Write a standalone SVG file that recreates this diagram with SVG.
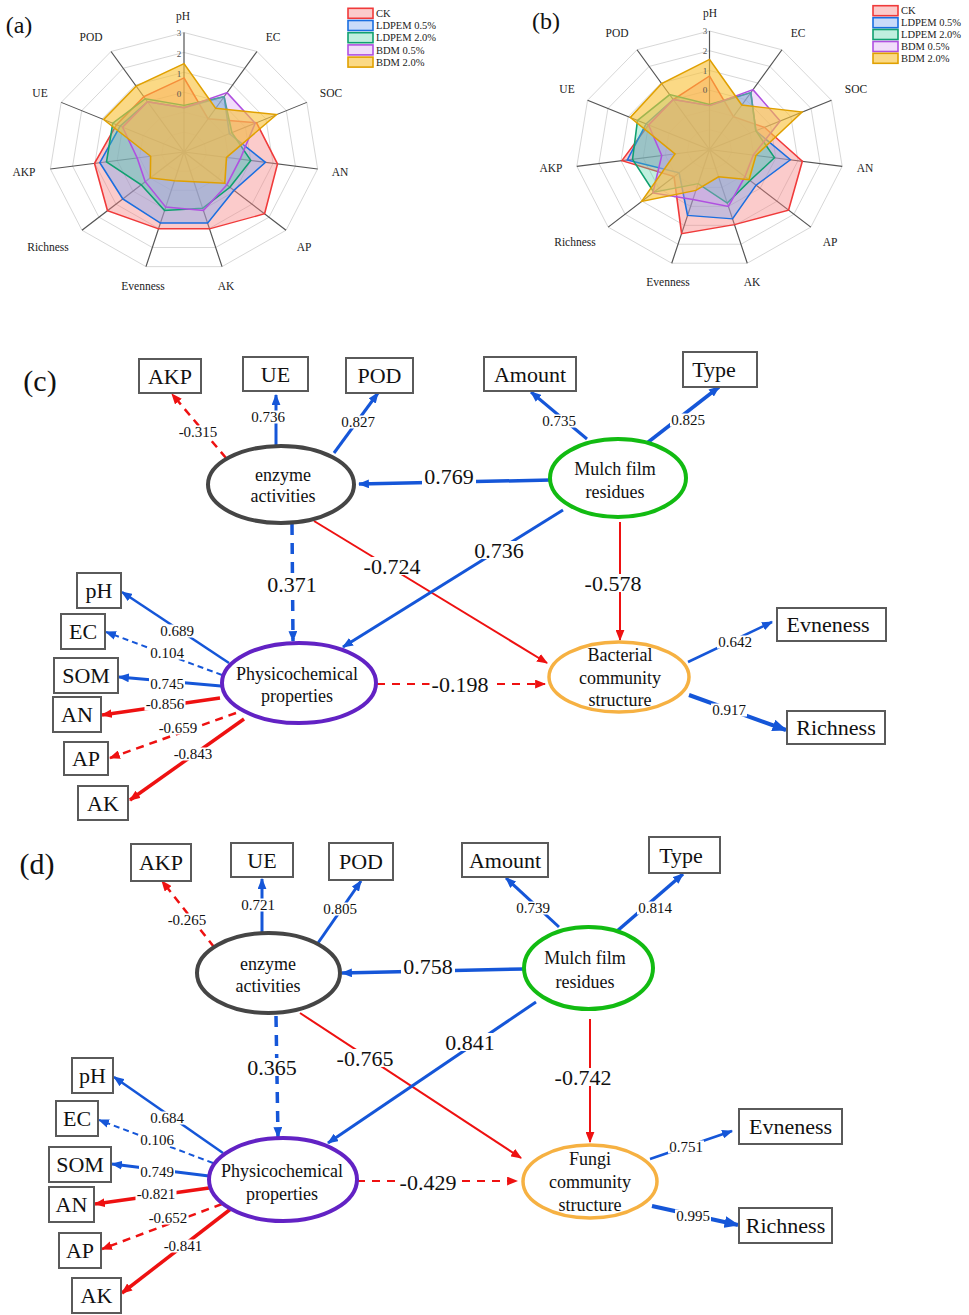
<svg xmlns="http://www.w3.org/2000/svg" xmlns:xlink="http://www.w3.org/1999/xlink" width="969" height="1315" viewBox="0 0 969 1315">
<style>
.ax{font-family:"Liberation Serif",serif;font-size:11.5px;text-anchor:middle;dominant-baseline:central;fill:#222}
.tk{font-family:"Liberation Serif",serif;font-size:9px;text-anchor:middle;dominant-baseline:central;fill:#555}
.lg{font-family:"Liberation Serif",serif;font-size:10.5px;fill:#222}
.pl{font-family:"Liberation Serif",serif;font-size:24px;text-anchor:middle;dominant-baseline:central;fill:#111}
.grid{fill:none;stroke:#d4d4d4;stroke-width:1}
.spoke{stroke:#555;stroke-width:1.2}
.ck{fill:#f58484;fill-opacity:.42;stroke:#f03a3a;stroke-width:1.6}
.l5{fill:#7aa6f0;fill-opacity:.4;stroke:#1a6ee0;stroke-width:1.6}
.l2{fill:#45d0a0;fill-opacity:.34;stroke:#10a070;stroke-width:1.6}
.b5{fill:#d59af0;fill-opacity:.34;stroke:#b050e0;stroke-width:1.6}
.b2{fill:#f8c23a;fill-opacity:.62;stroke:#e0a000;stroke-width:1.6}
.box{fill:#fff;stroke:#5a5a5a;stroke-width:2}
.bt{font-family:"Liberation Serif",serif;font-size:22px;text-anchor:middle;dominant-baseline:central;fill:#111}
.et{font-family:"Liberation Serif",serif;font-size:18px;text-anchor:middle;dominant-baseline:central;fill:#111}
.sm{font-family:"Liberation Serif",serif;font-size:15px;text-anchor:middle;dominant-baseline:central;fill:#111}
.bg{font-family:"Liberation Serif",serif;font-size:22px;text-anchor:middle;dominant-baseline:central;fill:#111}
.lb{fill:#fff;stroke:none}
.b{fill:none;stroke:#1556d8}
.r{fill:none;stroke:#ee1111}
.ab{marker-end:url(#mb)}
.ar{marker-end:url(#mr)}
</style>
<defs>
<marker id="mb" viewBox="0 0 10 8" refX="9" refY="4" markerWidth="11" markerHeight="9" markerUnits="userSpaceOnUse" orient="auto"><path d="M0,0L10,4L0,8z" fill="#1556d8"/></marker>
<marker id="mr" viewBox="0 0 10 8" refX="9" refY="4" markerWidth="11" markerHeight="9" markerUnits="userSpaceOnUse" orient="auto"><path d="M0,0L10,4L0,8z" fill="#ee1111"/></marker>
<marker id="mbb" viewBox="0 0 10 8" refX="9" refY="4" markerWidth="15" markerHeight="12" markerUnits="userSpaceOnUse" orient="auto"><path d="M0,0L10,4L0,8z" fill="#1556d8"/></marker>
<g id="rgrid">
<polygon class="grid" points="0,-22.5 12.2,-18.9 20.5,-9.3 22.3,3.2 17.0,14.7 6.3,21.6 -6.3,21.6 -17.0,14.7 -22.3,3.2 -20.5,-9.3 -12.2,-18.9"/>
<polygon class="grid" points="0,-45 24.3,-37.9 40.9,-18.7 44.5,6.4 34.0,29.5 12.7,43.2 -12.7,43.2 -34.0,29.5 -44.5,6.4 -40.9,-18.7 -24.3,-37.9"/>
<polygon class="grid" points="0,-67.5 36.5,-56.8 61.4,-28.0 66.8,9.6 51.0,44.2 19.0,64.8 -19.0,64.8 -51.0,44.2 -66.8,9.6 -61.4,-28.0 -36.5,-56.8"/>
<polygon class="grid" points="0,-90 48.7,-75.7 81.9,-37.4 89.1,12.8 68.0,58.9 25.4,86.4 -25.4,86.4 -68.0,58.9 -89.1,12.8 -81.9,-37.4 -48.7,-75.7"/>
<polygon class="grid" points="0,-112.5 60.8,-94.6 102.3,-46.7 111.4,16.0 85.0,73.7 31.7,107.9 -31.7,107.9 -85.0,73.7 -111.4,16.0 -102.3,-46.7 -60.8,-94.6"/>
<polygon class="grid" points="0,-135 72.98,-113.58 122.80,-56.08 133.62,19.21 102.02,88.41 38.03,129.53 -38.03,129.53 -102.02,88.41 -133.62,19.21 -122.80,-56.08 -72.98,-113.58"/>
<path class="spoke" d="M0,0L0,-135M0,0L72.98,-113.58M0,0L122.80,-56.08M0,0L133.62,19.21M0,0L102.02,88.41M0,0L38.03,129.53M0,0L-38.03,129.53M0,0L-102.02,88.41M0,0L-133.62,19.21M0,0L-122.80,-56.08M0,0L-72.98,-113.58"/>
</g>
</defs>
<rect width="969" height="1315" fill="#fff"/>

<!-- Radar (a) -->
<g id="radar-a">
<g transform="translate(184,152) scale(1,0.885)">
<use xlink:href="#rgrid"/>
<polygon class="ck" points="0,-83.7 24.1,-37.5 72.5,-33.1 93.5,13.4 80.6,69.8 25.5,86.8 -25.5,86.8 -76.5,66.3 -89.5,12.9 -67.5,-30.8 -40.1,-62.5"/>
<polygon class="l5" points="0,-50 40.1,-62.5 45.4,-20.7 81.5,11.7 50.0,43.3 23.6,80.3 -23.6,80.3 -61.2,53.0 -84.2,12.1 -63.9,-29.2 -36.5,-56.8"/>
<polygon class="l2" points="0,-52.7 40.1,-62.5 47.9,-21.9 66.8,9.6 45.9,39.8 18.6,63.5 -19.4,66.1 -42.8,37.1 -77.5,11.1 -71.2,-32.5 -38.7,-60.2"/>
<polygon class="b5" points="0,-50 43.1,-67.0 71.2,-32.5 56.1,8.1 42.8,37.1 19.4,66.1 -18.3,62.2 -38.8,33.6 -46.8,6.7 -61.4,-28.0 -36.5,-56.8"/>
<polygon class="b2" points="0,-99.9 31.7,-49.4 92.6,-42.3 42.5,6.1 40.8,35.4 9.9,33.7 -9.5,32.4 -33.7,29.2 -33.4,4.8 -80.4,-36.7 -47.8,-74.4"/>
</g>
<text class="pl" x="19" y="25">(a)</text>
<text class="tk" x="179" y="33">3</text><text class="tk" x="179" y="54">2</text><text class="tk" x="179" y="74">1</text><text class="tk" x="179" y="94">0</text>
<text class="ax" x="183" y="16">pH</text>
<text class="ax" x="273" y="37">EC</text>
<text class="ax" x="331" y="93">SOC</text>
<text class="ax" x="340" y="172">AN</text>
<text class="ax" x="304" y="247">AP</text>
<text class="ax" x="226" y="286">AK</text>
<text class="ax" x="143" y="286">Evenness</text>
<text class="ax" x="48" y="247">Richness</text>
<text class="ax" x="24" y="172">AKP</text>
<text class="ax" x="40" y="93">UE</text>
<text class="ax" x="91" y="37">POD</text>
<rect class="ck" x="348" y="8.3" width="25" height="10"/><text class="lg" x="376" y="17">CK</text>
<rect class="l5" x="348" y="20.5" width="25" height="10"/><text class="lg" x="376" y="29.2">LDPEM 0.5%</text>
<rect class="l2" x="348" y="32.7" width="25" height="10"/><text class="lg" x="376" y="41.4">LDPEM 2.0%</text>
<rect class="b5" x="348" y="44.9" width="25" height="10"/><text class="lg" x="376" y="53.6">BDM 0.5%</text>
<rect class="b2" x="348" y="57.1" width="25" height="10"/><text class="lg" x="376" y="65.8">BDM 2.0%</text>
</g>

<!-- Radar (b) -->
<g id="radar-b">
<g transform="translate(709.5,149.5) scale(0.993,0.878)">
<use xlink:href="#rgrid"/>
<polygon class="ck" points="0,-83.7 24.1,-37.5 55.3,-25.2 93.5,13.4 79.6,69.0 25.1,85.5 -28.1,95.9 -35.7,30.9 -88.2,12.7 -61.4,-28.0 -36.5,-56.8"/>
<polygon class="l5" points="0,-50 41.6,-64.7 46.7,-21.3 81.5,11.7 46.9,40.7 23.2,79.0 -22.1,75.1 -30.6,26.5 -82.8,11.9 -63.9,-29.2 -36.5,-56.8"/>
<polygon class="l2" points="0,-51.3 41.6,-64.7 46.7,-21.3 65.5,9.4 40.8,35.4 17.9,60.9 -11.4,38.9 -56.1,48.6 -77.5,11.1 -72.5,-33.1 -40.1,-62.5"/>
<polygon class="b5" points="0,-50 43.8,-68.1 71.2,-32.5 44.1,6.3 35.7,30.9 19.0,64.8 -16.7,57.0 -57.1,49.5 -48.1,6.9 -61.4,-28.0 -36.5,-56.8"/>
<polygon class="b2" points="0,-102.6 32.5,-50.7 93.3,-42.6 46.8,6.7 39.8,34.5 9.1,31.1 -13.7,46.6 -68.4,59.2 -34.7,5.0 -79.8,-36.5 -48.2,-75.0"/>
</g>
<text class="pl" x="546" y="21">(b)</text>
<text class="tk" x="705" y="31">3</text><text class="tk" x="705" y="51">2</text><text class="tk" x="705" y="71">1</text><text class="tk" x="705" y="90">0</text>
<text class="ax" x="710" y="13">pH</text>
<text class="ax" x="798" y="33">EC</text>
<text class="ax" x="856" y="89">SOC</text>
<text class="ax" x="865" y="168">AN</text>
<text class="ax" x="830" y="242">AP</text>
<text class="ax" x="752" y="282">AK</text>
<text class="ax" x="668" y="282">Evenness</text>
<text class="ax" x="575" y="242">Richness</text>
<text class="ax" x="551" y="168">AKP</text>
<text class="ax" x="567" y="89">UE</text>
<text class="ax" x="617" y="33">POD</text>
<rect class="ck" x="873" y="5.7" width="25" height="10"/><text class="lg" x="901" y="14.4">CK</text>
<rect class="l5" x="873" y="17.7" width="25" height="10"/><text class="lg" x="901" y="26.4">LDPEM 0.5%</text>
<rect class="l2" x="873" y="29.5" width="25" height="10"/><text class="lg" x="901" y="38.2">LDPEM 2.0%</text>
<rect class="b5" x="873" y="41.5" width="25" height="10"/><text class="lg" x="901" y="50.2">BDM 0.5%</text>
<rect class="b2" x="873" y="53.3" width="25" height="10"/><text class="lg" x="901" y="62">BDM 2.0%</text>
</g>

<!-- Panel (c) -->
<text class="pl" x="40" y="380" style="font-size:30px">(c)</text>
<g id="connectors-c">
<path class="r ar" stroke-width="2.5" stroke-dasharray="8 6" d="M226,458L172,394"/>
<path class="b ab" stroke-width="3" d="M276,445L276,395"/>
<path class="b ab" stroke-width="3" d="M334,453L378,393"/>
<path class="b ab" stroke-width="3.5" d="M551,480L359,484"/>
<path class="r ar" stroke-width="2" d="M314,521L547,663"/>
<path class="b ab" stroke-width="3.5" stroke-dasharray="11 8" d="M292,524L293,641"/>
<path class="b ab" stroke-width="3" d="M563,510L343,647"/>
<path class="b ab" stroke-width="3" d="M587,439L531,392"/>
<path class="b ab" stroke-width="3.5" d="M647,443L719,387"/>
<path class="r ar" stroke-width="2" d="M620,522L620,640"/>
<path class="r ar" stroke-width="2" stroke-dasharray="8 7" d="M377,684L545,684"/>
<path class="b ab" stroke-width="2.5" d="M688,662L772,622"/>
<path class="b" stroke-width="4" marker-end="url(#mbb)" d="M689,695L786,730"/>
<path class="b ab" stroke-width="2.5" d="M229,663L122,592"/>
<path class="b ab" stroke-width="2" stroke-dasharray="6 4" d="M222,675L106,632"/>
<path class="b ab" stroke-width="3" d="M221,686L119,677"/>
<path class="r ar" stroke-width="3.5" d="M220,698L102,715"/>
<path class="r ar" stroke-width="2.5" stroke-dasharray="8 6" d="M236,713L110,758"/>
<path class="r ar" stroke-width="3.5" d="M244,719L130,800"/>
<rect class="lb" x="177.5" y="425.5" width="41" height="13"/>
<rect class="lb" x="250" y="410.5" width="36" height="13"/>
<rect class="lb" x="340" y="415.5" width="36" height="13"/>
<rect class="lb" x="422" y="467" width="54" height="18"/>
<rect class="lb" x="361.5" y="557" width="61" height="18"/>
<rect class="lb" x="265" y="575" width="54" height="18"/>
<rect class="lb" x="472" y="541" width="54" height="18"/>
<rect class="lb" x="541" y="414.5" width="36" height="13"/>
<rect class="lb" x="670" y="413.5" width="36" height="13"/>
<rect class="lb" x="582.5" y="574" width="61" height="18"/>
<rect class="lb" x="429.5" y="675" width="61" height="18"/>
<rect class="lb" x="717" y="635.5" width="36" height="13"/>
<rect class="lb" x="711" y="703.5" width="36" height="13"/>
<rect class="lb" x="159" y="624.5" width="36" height="13"/>
<rect class="lb" x="149" y="646.5" width="36" height="13"/>
<rect class="lb" x="149" y="677.5" width="36" height="13"/>
<rect class="lb" x="144.5" y="697.5" width="41" height="13"/>
<rect class="lb" x="157.5" y="721.5" width="41" height="13"/>
<rect class="lb" x="172.5" y="747.5" width="41" height="13"/>
<text class="sm" x="198" y="432">-0.315</text>
<text class="sm" x="268" y="417">0.736</text>
<text class="sm" x="358" y="422">0.827</text>
<text class="bg" x="449" y="476">0.769</text>
<text class="bg" x="392" y="566">-0.724</text>
<text class="bg" x="292" y="584">0.371</text>
<text class="bg" x="499" y="550">0.736</text>
<text class="sm" x="559" y="421">0.735</text>
<text class="sm" x="688" y="420">0.825</text>
<text class="bg" x="613" y="583">-0.578</text>
<text class="bg" x="460" y="684">-0.198</text>
<text class="sm" x="735" y="642">0.642</text>
<text class="sm" x="729" y="710">0.917</text>
<text class="sm" x="177" y="631">0.689</text>
<text class="sm" x="167" y="653">0.104</text>
<text class="sm" x="167" y="684">0.745</text>
<text class="sm" x="165" y="704">-0.856</text>
<text class="sm" x="178" y="728">-0.659</text>
<text class="sm" x="193" y="754">-0.843</text>
</g>
<g id="c-AKP"><rect class="box" x="139" y="359" width="62" height="34"/><text class="bt" x="170" y="376">AKP</text></g>
<g id="c-UE"><rect class="box" x="243" y="357" width="65" height="34"/><text class="bt" x="275.5" y="374">UE</text></g>
<g id="c-POD"><rect class="box" x="346" y="358" width="67" height="35"/><text class="bt" x="379.5" y="375.5">POD</text></g>
<g id="c-Amount"><rect class="box" x="484" y="357" width="92" height="34"/><text class="bt" x="530" y="374">Amount</text></g>
<g id="c-Type"><rect class="box" x="683" y="352" width="74" height="35"/><text class="bt" x="714" y="369.5">Type</text></g>
<g id="c-enzyme"><ellipse cx="281" cy="484.5" rx="73" ry="38.5" fill="#fff" stroke="#454545" stroke-width="4"/><text class="et" x="283" y="475">enzyme</text><text class="et" x="283" y="496">activities</text></g>
<g id="c-mulch"><ellipse cx="618" cy="478" rx="68" ry="39" fill="#fff" stroke="#12bb12" stroke-width="4"/><text class="et" x="615" y="469">Mulch film</text><text class="et" x="615" y="492">residues</text></g>
<g id="c-physico"><ellipse cx="299" cy="683" rx="77" ry="40" fill="#fff" stroke="#6222c4" stroke-width="4"/><text class="et" x="297" y="674">Physicochemical</text><text class="et" x="297" y="696">properties</text></g>
<g id="c-bact"><ellipse cx="619" cy="677" rx="70" ry="35" fill="#fff" stroke="#f6b142" stroke-width="3.5"/><text class="et" x="620" y="655">Bacterial</text><text class="et" x="620" y="678">community</text><text class="et" x="620" y="700">structure</text></g>
<g id="c-Evneness"><rect class="box" x="777" y="608" width="109" height="33"/><text class="bt" x="828" y="624.5">Evneness</text></g>
<g id="c-Richness"><rect class="box" x="787" y="711" width="98" height="33"/><text class="bt" x="836" y="727.5">Richness</text></g>
<g id="c-pH"><rect class="box" x="77" y="573" width="44" height="35"/><text class="bt" x="99" y="590.5">pH</text></g>
<g id="c-EC"><rect class="box" x="61" y="614" width="44" height="35"/><text class="bt" x="83" y="631.5">EC</text></g>
<g id="c-SOM"><rect class="box" x="54" y="658" width="64" height="35"/><text class="bt" x="86" y="675.5">SOM</text></g>
<g id="c-AN"><rect class="box" x="53" y="697" width="48" height="35"/><text class="bt" x="77" y="714.5">AN</text></g>
<g id="c-AP"><rect class="box" x="64" y="742" width="44" height="33"/><text class="bt" x="86" y="758.5">AP</text></g>
<g id="c-AK"><rect class="box" x="78" y="786" width="50" height="34"/><text class="bt" x="103" y="803">AK</text></g>

<!-- Panel (d) -->
<text class="pl" x="37" y="863" style="font-size:30px">(d)</text>
<g id="connectors-d">
<path class="r ar" stroke-width="2.5" stroke-dasharray="8 6" d="M214,947L162,881"/>
<path class="b ab" stroke-width="3" d="M262,933L262,879"/>
<path class="b ab" stroke-width="3" d="M318,943L361,881"/>
<path class="b ab" stroke-width="3.5" d="M524,969L342,973"/>
<path class="r ar" stroke-width="2" d="M300,1013L521,1158"/>
<path class="b ab" stroke-width="3.5" stroke-dasharray="11 8" d="M276,1016L278,1137"/>
<path class="b ab" stroke-width="3" d="M536,1002L328,1143"/>
<path class="b ab" stroke-width="3" d="M559,927L506,878"/>
<path class="b ab" stroke-width="3.5" d="M616,932L683,874"/>
<path class="r ar" stroke-width="2" d="M590,1019L590,1142"/>
<path class="r ar" stroke-width="2" stroke-dasharray="8 7" d="M357,1181L517,1181"/>
<path class="b ab" stroke-width="2.5" d="M650,1159L732,1131"/>
<path class="b" stroke-width="4" marker-end="url(#mbb)" d="M652,1206L738,1225"/>
<path class="b ab" stroke-width="2.5" d="M223,1153L114,1077"/>
<path class="b ab" stroke-width="2" stroke-dasharray="6 4" d="M213,1163L99,1120"/>
<path class="b ab" stroke-width="3" d="M209,1176L112,1164"/>
<path class="r ar" stroke-width="3.5" d="M209,1188L95,1204"/>
<path class="r ar" stroke-width="2.5" stroke-dasharray="8 6" d="M222,1204L102,1249"/>
<path class="r ar" stroke-width="3.5" d="M232,1208L122,1293"/>
<rect class="lb" x="166.5" y="913.5" width="41" height="13"/>
<rect class="lb" x="240" y="898.5" width="36" height="13"/>
<rect class="lb" x="322" y="902.5" width="36" height="13"/>
<rect class="lb" x="401" y="957" width="54" height="18"/>
<rect class="lb" x="245" y="1058" width="54" height="18"/>
<rect class="lb" x="334.5" y="1049" width="61" height="18"/>
<rect class="lb" x="443" y="1033" width="54" height="18"/>
<rect class="lb" x="515" y="901.5" width="36" height="13"/>
<rect class="lb" x="637" y="901.5" width="36" height="13"/>
<rect class="lb" x="552.5" y="1068" width="61" height="18"/>
<rect class="lb" x="397.5" y="1173" width="61" height="18"/>
<rect class="lb" x="668" y="1140.5" width="36" height="13"/>
<rect class="lb" x="675" y="1209.5" width="36" height="13"/>
<rect class="lb" x="149" y="1111.5" width="36" height="13"/>
<rect class="lb" x="139" y="1133.5" width="36" height="13"/>
<rect class="lb" x="139" y="1165.5" width="36" height="13"/>
<rect class="lb" x="135.5" y="1187.5" width="41" height="13"/>
<rect class="lb" x="147.5" y="1211.5" width="41" height="13"/>
<rect class="lb" x="162.5" y="1239.5" width="41" height="13"/>
<text class="sm" x="187" y="920">-0.265</text>
<text class="sm" x="258" y="905">0.721</text>
<text class="sm" x="340" y="909">0.805</text>
<text class="bg" x="428" y="966">0.758</text>
<text class="bg" x="272" y="1067">0.365</text>
<text class="bg" x="365" y="1058">-0.765</text>
<text class="bg" x="470" y="1042">0.841</text>
<text class="sm" x="533" y="908">0.739</text>
<text class="sm" x="655" y="908">0.814</text>
<text class="bg" x="583" y="1077">-0.742</text>
<text class="bg" x="428" y="1182">-0.429</text>
<text class="sm" x="686" y="1147">0.751</text>
<text class="sm" x="693" y="1216">0.995</text>
<text class="sm" x="167" y="1118">0.684</text>
<text class="sm" x="157" y="1140">0.106</text>
<text class="sm" x="157" y="1172">0.749</text>
<text class="sm" x="156" y="1194">-0.821</text>
<text class="sm" x="168" y="1218">-0.652</text>
<text class="sm" x="183" y="1246">-0.841</text>
</g>
<g id="d-AKP"><rect class="box" x="131" y="844" width="60" height="37"/><text class="bt" x="161" y="862.5">AKP</text></g>
<g id="d-UE"><rect class="box" x="231" y="843" width="62" height="34"/><text class="bt" x="262" y="860">UE</text></g>
<g id="d-POD"><rect class="box" x="329" y="843" width="64" height="37"/><text class="bt" x="361" y="861.5">POD</text></g>
<g id="d-Amount"><rect class="box" x="462" y="843" width="86" height="34"/><text class="bt" x="505" y="860">Amount</text></g>
<g id="d-Type"><rect class="box" x="649" y="837" width="71" height="36"/><text class="bt" x="681" y="855">Type</text></g>
<g id="d-enzyme"><ellipse cx="268.5" cy="973" rx="71.5" ry="40" fill="#fff" stroke="#454545" stroke-width="4"/><text class="et" x="268" y="964">enzyme</text><text class="et" x="268" y="986">activities</text></g>
<g id="d-mulch"><ellipse cx="588.5" cy="968" rx="64.5" ry="41" fill="#fff" stroke="#12bb12" stroke-width="4"/><text class="et" x="585" y="958">Mulch film</text><text class="et" x="585" y="982">residues</text></g>
<g id="d-physico"><ellipse cx="283" cy="1179.5" rx="74" ry="41.5" fill="#fff" stroke="#6222c4" stroke-width="4"/><text class="et" x="282" y="1171">Physicochemical</text><text class="et" x="282" y="1194">properties</text></g>
<g id="d-fungi"><ellipse cx="590" cy="1181.5" rx="67" ry="36.5" fill="#fff" stroke="#f6b142" stroke-width="3.5"/><text class="et" x="590" y="1159">Fungi</text><text class="et" x="590" y="1182">community</text><text class="et" x="590" y="1205">structure</text></g>
<g id="d-Evneness"><rect class="box" x="739" y="1109" width="103" height="35"/><text class="bt" x="790.5" y="1126.5">Evneness</text></g>
<g id="d-Richness"><rect class="box" x="739" y="1208" width="93" height="35"/><text class="bt" x="785.5" y="1225.5">Richness</text></g>
<g id="d-pH"><rect class="box" x="72" y="1058" width="41" height="35"/><text class="bt" x="92.5" y="1075.5">pH</text></g>
<g id="d-EC"><rect class="box" x="56" y="1101" width="42" height="35"/><text class="bt" x="77" y="1118.5">EC</text></g>
<g id="d-SOM"><rect class="box" x="49" y="1147" width="62" height="35"/><text class="bt" x="80" y="1164.5">SOM</text></g>
<g id="d-AN"><rect class="box" x="49" y="1187" width="45" height="35"/><text class="bt" x="71.5" y="1204.5">AN</text></g>
<g id="d-AP"><rect class="box" x="59" y="1233" width="42" height="35"/><text class="bt" x="80" y="1250.5">AP</text></g>
<g id="d-AK"><rect class="box" x="72" y="1278" width="49" height="35"/><text class="bt" x="96.5" y="1295.5">AK</text></g>
</svg>
